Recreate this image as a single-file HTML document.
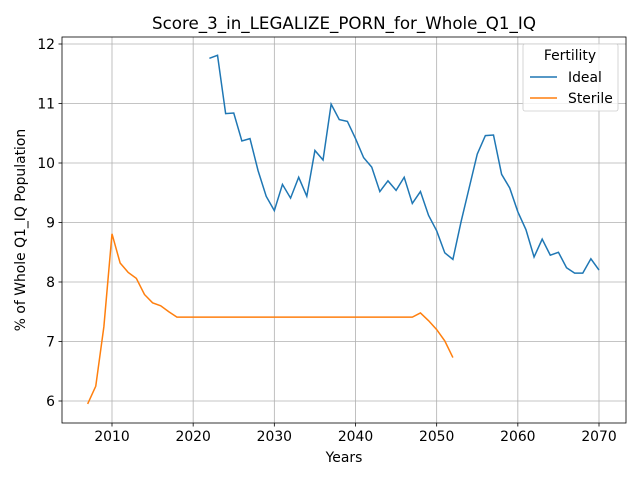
<!DOCTYPE html>
<html><head><meta charset="utf-8"><style>body{margin:0;background:#fff}svg{display:block}text{font-family:"DejaVu Sans","Liberation Sans",sans-serif}</style></head>
<body>
<svg id="c" width="640" height="480"></svg>
<script>
const idealYears=[];for(let y=2022;y<=2070;y++)idealYears.push(y);
const idealValues=[11.76,11.81,10.83,10.84,10.37,10.41,9.87,9.44,9.20,9.64,9.41,9.76,9.44,10.21,10.05,10.99,10.73,10.70,10.41,10.09,9.93,9.52,9.70,9.54,9.76,9.32,9.52,9.12,8.86,8.49,8.38,9.01,9.58,10.15,10.46,10.47,9.81,9.58,9.18,8.88,8.42,8.72,8.45,8.50,8.24,8.15,8.15,8.39,8.20];
const sterileYears=[];for(let y=2007;y<=2052;y++)sterileYears.push(y);
const sterileValues=[5.95,6.25,7.25,8.81,8.32,8.16,8.06,7.79,7.65,7.60,7.50,7.41,7.41,7.41,7.41,7.41,7.41,7.41,7.41,7.41,7.41,7.41,7.41,7.41,7.41,7.41,7.41,7.41,7.41,7.41,7.41,7.41,7.41,7.41,7.41,7.41,7.41,7.41,7.41,7.41,7.41,7.48,7.35,7.20,7.01,6.73];
const xTicks=[2010,2020,2030,2040,2050,2060,2070];
const yTicks=[6,7,8,9,10,11,12];
const NS="http://www.w3.org/2000/svg",svg=document.getElementById('c');
const L=62,R=626,T=37,B=423;
const xs=v=>112+(v-2010)*(599-112)/60;
const ys=v=>401-(v-6)*(401-44)/6;
function el(t,a,p){const e=document.createElementNS(NS,t);for(const k in a)e.setAttribute(k,a[k]);(p||svg).appendChild(e);return e;}
xTicks.forEach(t=>{const g=el('line',{x1:xs(t),x2:xs(t),y1:T,y2:B,stroke:'#b0b0b0','stroke-width':0.8});

el('line',{x1:xs(t),x2:xs(t),y1:B,y2:B+3.5,stroke:'#000','stroke-width':0.8});
const tx=el('text',{x:xs(t),y:B+18,'text-anchor':'middle','font-size':13.9});tx.textContent=t;
});
yTicks.forEach(t=>{const g=el('line',{x1:L,x2:R,y1:ys(t),y2:ys(t),stroke:'#b0b0b0','stroke-width':0.8});

el('line',{x1:L-3.5,x2:L,y1:ys(t),y2:ys(t),stroke:'#000','stroke-width':0.8});
const tx=el('text',{x:L-7,y:ys(t)+5,'text-anchor':'end','font-size':13.9});tx.textContent=t;
});
function line(xv,yv,c,n){const p=el('polyline',{points:xv.map((x,i)=>xs(x)+','+ys(yv[i])).join(' '),fill:'none',stroke:c,'stroke-width':1.5});
}
line(idealYears,idealValues,'#1f77b4','ideal-line');
line(sterileYears,sterileValues,'#ff7f0e','sterile-line');
const fr=el('rect',{x:L,y:T,width:R-L,height:B-T,fill:'none',stroke:'#000','stroke-width':0.8});

</script>
<svg width="640" height="480" style="position:absolute;left:0;top:0">
<text x="344" y="29" text-anchor="middle" font-size="16.7">Score_3_in_LEGALIZE_PORN_for_Whole_Q1_IQ</text>
<text x="344" y="462" text-anchor="middle" font-size="13.9">Years</text>
<text transform="translate(25,230) rotate(-90)" text-anchor="middle" font-size="13.9">% of Whole Q1_IQ Population</text>
<g>
<rect x="523" y="44" width="95" height="67" rx="2" fill="#fff" fill-opacity="0.8" stroke="#ccc" stroke-width="0.8"/>
<text x="570" y="60" text-anchor="middle" font-size="13.9">Fertility</text>
<line x1="530" x2="557" y1="77" y2="77" stroke="#1f77b4" stroke-width="1.5"/>
<text x="568" y="82" font-size="13.9">Ideal</text>
<line x1="530" x2="557" y1="98" y2="98" stroke="#ff7f0e" stroke-width="1.5"/>
<text x="568" y="103" font-size="13.9">Sterile</text>
</g>
</svg>
</body></html>
